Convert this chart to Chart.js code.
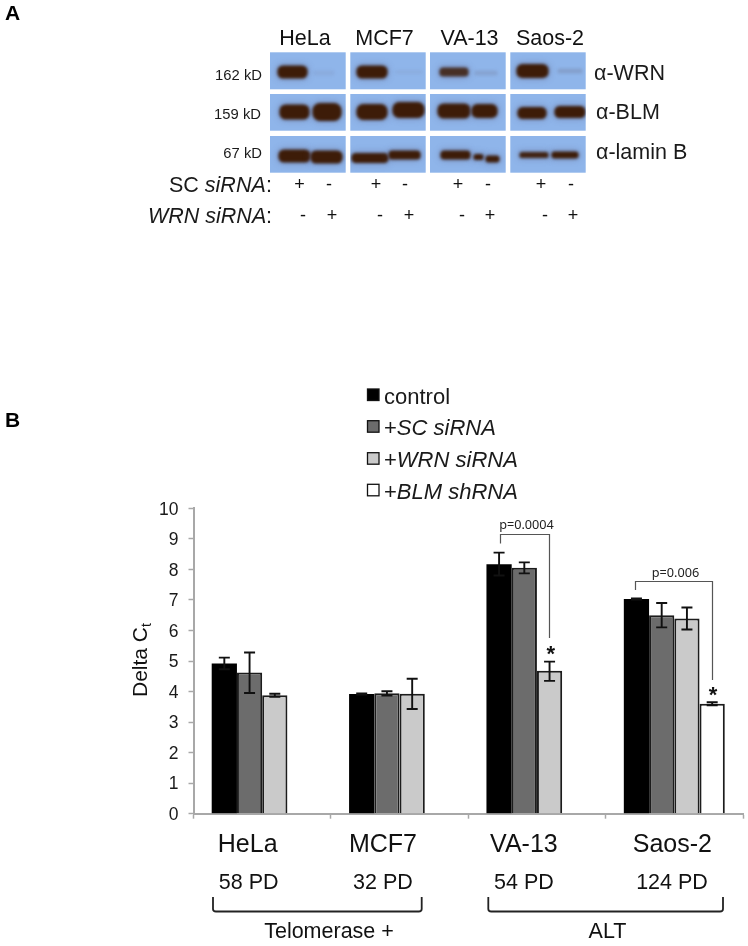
<!DOCTYPE html>
<html><head><meta charset="utf-8">
<style>html,body{margin:0;padding:0;background:#fff}canvas{display:block}</style>
<script src="https://cdn.jsdelivr.net/npm/chart.js@4/dist/chart.umd.min.js"></script>
</head><body><canvas id="c" width="748" height="946"></canvas>
<script>
const categories=['HeLa','MCF7','VA-13','Saos-2'];
const pdLabels=['58 PD','32 PD','54 PD','124 PD'];
const yTicks=[0,1,2,3,4,5,6,7,8,9,10];
const seriesNames=['control','+SC siRNA','+WRN siRNA','+BLM shRNA'];
const controlValues=[4.92,3.92,8.17,7.03];
const scValues=[4.62,3.94,8.05,6.5];
const wrnValues=[3.88,3.93,4.68,6.39];
const blmValues=[null,null,null,3.6];
const controlHigh=[5.11,3.94,8.55,7.05], controlLow=[4.73,3.90,7.8,7.01];
const scHigh=[5.28,4.01,8.23,6.9], scLow=[3.95,3.87,7.87,6.1];
const wrnHigh=[3.93,4.42,4.98,6.75], wrnLow=[3.83,3.43,4.35,6.03];
const blmHigh=[null,null,null,3.65], blmLow=[null,null,null,3.55];
const fillColors=['#000000','#6c6c6c','#cacaca','#ffffff'];
const FONT='"Liberation Sans", Arial, sans-serif';

const blotPanels=[[270,345.7],[350.3,425.7],[430,505.7],[510.3,585.7]];
const blotRows=[[52.3,89.3],[94,130.7],[136,172.7]];
// decorative western-blot bands: x0,x1,yCentre,height,opacity
const blotBands=[
[278,307,72,12,1],[314,334,73,4,.12],[357,387,72,12,1],[396,422,72,3,.1],[440,468,72,8,.85],[475,497,73,4,.25],[517,548,71,13,1],[558,582,71,4,.3],
[280,309,112,14,1],[313,341,112,17,1],[357,387,112,15,1],[393,424,110,15,1],[438,470,111,14,1],[472,497,111,13,1],[518,546,113,11,1],[555,585,112,11,1],
[279,310,156,12,1],[311,342,157,12,1],[352,388,158,9,1],[389,420,155,8,1],[441,470,155,8,1],[474,483,157,5,1],[486,499,159,6,1],[520,548,155,5,.95],[552,578,155,6,1]
];
const plusMinus=[
['+',299.5,184],['-',329,184],['+',376,184],['-',405,184],['+',458,184],['-',488,184],['+',541,184],['-',571,184],
['-',303,215],['+',332,215],['-',380,215],['+',409,215],['-',462,215],['+',490,215],['-',545,215],['+',573,215]
];
const labelShift=[-14.5,-16.6,-13,-2];

function txt(ctx,s,x,y,font,align,color){
  ctx.font=font;ctx.textAlign=align||'left';ctx.textBaseline='alphabetic';ctx.fillStyle=color||'#1a1a1a';ctx.fillText(s,x,y);
}
function band(ctx,b,grow){
  const h=b[3]+grow*2,w=b[1]-b[0]+grow*2;
  ctx.beginPath();ctx.roundRect(b[0]-grow,b[2]-h/2,w,h,h*0.42);ctx.fill();
}
const annotations={
  id:'annotations',
  beforeDraw(chart){
    const ctx=chart.ctx;
    ctx.save();
    ctx.fillStyle='#fff';ctx.fillRect(0,0,748,946);
    txt(ctx,'A',5,20,'bold 21px '+FONT,'left','#000');
    txt(ctx,'B',5,427,'bold 21px '+FONT,'left','#000');
    const heads=[305,384.5,469.5,550];
    categories.forEach((c,i)=>txt(ctx,c,heads[i],45,'21.5px '+FONT,'center','#111'));
    blotPanels.forEach(p=>blotRows.forEach(r=>{ctx.fillStyle='#8fb5ea';ctx.fillRect(p[0],r[0],p[1]-p[0],r[1]-r[0]);}));
    blotPanels.forEach(p=>blotRows.forEach(r=>{
      ctx.save();
      ctx.beginPath();ctx.rect(p[0],r[0],p[1]-p[0],r[1]-r[0]);ctx.clip();
      blotBands.filter(b=>(b[0]+b[1])/2>p[0]&&(b[0]+b[1])/2<p[1]&&b[2]>r[0]&&b[2]<r[1]).forEach(b=>{
        if(b[4]>=.5){ctx.filter='blur(3px)';ctx.globalAlpha=.28;ctx.fillStyle='#4a4468';band(ctx,b,2);}
        ctx.filter='blur(1.5px)';ctx.globalAlpha=b[4];ctx.fillStyle=b[4]<.5?'#6b6f8a':'#3d1c08';band(ctx,b,0.6);
      });
      ctx.restore();
    }));
    txt(ctx,'162 kD',262,80,'14.8px '+FONT,'right');
    txt(ctx,'159 kD',261,119,'14.8px '+FONT,'right');
    txt(ctx,'67 kD',262,158,'14.8px '+FONT,'right');
    txt(ctx,'α-WRN',594,80,'21.5px '+FONT);
    txt(ctx,'α-BLM',596,119,'21.5px '+FONT);
    txt(ctx,'α-lamin B',596,159,'21.5px '+FONT);
    txt(ctx,'SC ',169,192,'21.5px '+FONT);
    txt(ctx,'siRNA',169+ctx.measureText('SC ').width,192,'italic 21.5px '+FONT);
    txt(ctx,':',272,192,'21.5px '+FONT,'right');
    txt(ctx,'WRN siRNA',148,223,'italic 21.5px '+FONT);
    txt(ctx,':',272,223,'21.5px '+FONT,'right');
    plusMinus.forEach(m=>txt(ctx,m[0],m[1],m[2]+6,'18px '+FONT,'center','#111'));
    const ly=[389,420.7,452.7,484.3], tb=[404,435,467,499];
    seriesNames.forEach((n,i)=>{
      ctx.fillStyle=fillColors[i];ctx.fillRect(367.5,ly[i],11.5,11.5);
      ctx.strokeStyle='#111';ctx.lineWidth=1.3;ctx.strokeRect(367.5,ly[i],11.5,11.5);
      if(n[0]==='+'){
        txt(ctx,'+',384,tb[i],'22px '+FONT);
        const w=ctx.measureText('+').width;
        txt(ctx,n.slice(1),384+w,tb[i],'italic 22px '+FONT);
      } else txt(ctx,n,384,tb[i],'22px '+FONT);
    });
    ctx.save();ctx.translate(147,664);ctx.rotate(-Math.PI/2);
    txt(ctx,'Delta C',-33,0,'21px '+FONT,'left','#111');
    const dw=ctx.measureText('Delta C').width;
    txt(ctx,'t',-33+dw,4,'14px '+FONT,'left','#111');
    ctx.restore();
    ctx.restore();
    if(!chart.$shifted){
      chart.scales.x.getLabelItems().forEach((it,i)=>{it.options.translation[0]+=labelShift[i];});
      chart.scales.y.getLabelItems().forEach(it=>{it.options.translation[1]+=1.5;});
      chart.$shifted=true;
    }
  },
  afterDatasetsDraw(chart){
    const ctx=chart.ctx,y=chart.scales.y;
    const hi=[controlHigh,scHigh,wrnHigh,blmHigh],lo=[controlLow,scLow,wrnLow,blmLow];
    ctx.save();ctx.strokeStyle='#111';ctx.lineWidth=1.9;
    hi.forEach((h,s)=>{
      const meta=chart.getDatasetMeta(s);
      h.forEach((v,j)=>{
        if(v==null)return;
        const x=meta.data[j].x,a=y.getPixelForValue(v),b=y.getPixelForValue(lo[s][j]);
        ctx.beginPath();ctx.moveTo(x,a);ctx.lineTo(x,b);
        ctx.moveTo(x-5.5,a);ctx.lineTo(x+5.5,a);ctx.moveTo(x-5.5,b);ctx.lineTo(x+5.5,b);ctx.stroke();
      });
    });
    ctx.restore();
    ctx.save();ctx.strokeStyle='#555';ctx.lineWidth=1.2;
    ctx.beginPath();
    ctx.moveTo(500.5,543.5);ctx.lineTo(500.5,534.5);ctx.lineTo(549.5,534.5);ctx.lineTo(549.5,638);
    ctx.moveTo(635.5,590);ctx.lineTo(635.5,581.5);ctx.lineTo(712.5,581.5);ctx.lineTo(712.5,680);
    ctx.stroke();ctx.restore();
    txt(ctx,'p=0.0004',526.5,529,'12.7px "Noto Sans", '+FONT,'center','#222');
    txt(ctx,'p=0.006',675.5,577,'12.7px "Noto Sans", '+FONT,'center','#222');
    txt(ctx,'*',550.7,661,'bold 22px '+FONT,'center','#111');
    txt(ctx,'*',713,702,'bold 22px '+FONT,'center','#111');
    const pdx=[248.7,383,524,672];
    pdLabels.forEach((p,i)=>txt(ctx,p,pdx[i],889,'21.5px '+FONT,'center','#111'));
    ctx.save();ctx.strokeStyle='#222';ctx.lineWidth=1.8;ctx.lineJoin='round';
    [[213,421.7],[488.3,723]].forEach(b=>{
      ctx.beginPath();ctx.moveTo(b[0],897);ctx.lineTo(b[0],909);ctx.quadraticCurveTo(b[0],911.5,b[0]+3,911.5);
      ctx.lineTo(b[1]-3,911.5);ctx.quadraticCurveTo(b[1],911.5,b[1],909);ctx.lineTo(b[1],897);ctx.stroke();
    });
    ctx.restore();
    txt(ctx,'Telomerase +',329,938,'21.5px '+FONT,'center','#111');
    txt(ctx,'ALT',607.5,938,'21.5px '+FONT,'center','#111');
  }
};
const values=[controlValues,scValues,wrnValues,blmValues];
new Chart(document.getElementById('c'),{
  type:'bar',
  data:{labels:categories,datasets:seriesNames.map((n,i)=>({
    label:n,data:values[i],backgroundColor:fillColors[i],
    borderColor:i===0?'#000':'#1c1c1c',borderWidth:i===0?0:2,borderSkipped:'bottom',
    categoryPercentage:0.735,barPercentage:1
  }))},
  options:{
    responsive:false,animation:false,events:[],devicePixelRatio:1,
    layout:{padding:{top:508.3,right:5,left:0,bottom:0}},
    plugins:{legend:{display:false},tooltip:{enabled:false},title:{display:false}},
    scales:{
      x:{
        afterFit(s){s.height=132.3;},
        grid:{display:true,drawOnChartArea:false,offset:true,tickLength:5,tickColor:'#a8a8a8',tickWidth:1.5},
        border:{color:'#a8a8a8',width:2},
        ticks:{font:{family:FONT,size:25},color:'#111',padding:11,maxRotation:0,autoSkip:false}
      },
      y:{
        min:0,max:10,
        afterFit(s){s.width=193.5;},
        afterBuildTicks(s){s.ticks=yTicks.map(v=>({value:v}));},
        grid:{display:true,drawOnChartArea:false,tickLength:5,tickColor:'#a8a8a8',tickWidth:1.5},
        border:{color:'#a8a8a8',width:2},
        ticks:{font:{family:FONT,size:17.5},color:'#1a1a1a',padding:10}
      }
    }
  },
  plugins:[annotations]
});
</script></body></html>
